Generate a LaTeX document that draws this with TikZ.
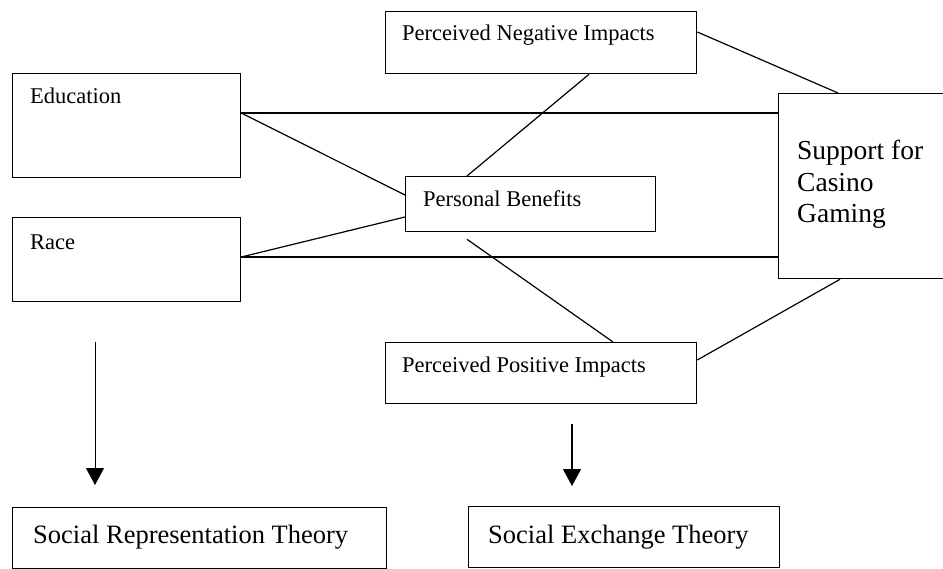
\documentclass[tikz,border=0pt]{standalone}
\usepackage{fontspec}
\setmainfont{Liberation Serif}
\usetikzlibrary{arrows.meta}
\begin{document}
\begin{tikzpicture}
[x=1pt,y=-1pt,
  boxdecorate/.style={shape=rectangle,draw,line width=1.3pt,inner sep=0pt,anchor=north west},%
  textdecorate/.style={inner sep=0pt,anchor=mid west,font=\fontsize{22.5}{27}\selectfont},%
  bigtextdecorate/.style={inner sep=0pt,anchor=mid west,font=\fontsize{26.5}{31}\selectfont},%
  linedecorate/.style={line width=1.2pt},%
  arrowdecorate/.style={-{Triangle[width=18pt,length=17pt]},line width=1.2pt}]
\useasboundingbox (0,0) rectangle (943,569);
% boxes
\node (pni) at (385,11) [boxdecorate,minimum width=311pt,minimum height=62pt] {};
\node (pnitext) [textdecorate] at ([shift={(17pt,-27pt)}]pni.north west) {Perceived Negative Impacts};
\node (edu) at (12,73) [boxdecorate,minimum width=228pt,minimum height=104pt] {};
\node (edutext) [textdecorate] at ([shift={(18pt,-28pt)}]edu.north west) {Education};
\node (race) at (12,217) [boxdecorate,minimum width=228pt,minimum height=84pt] {};
\node (racetext) [textdecorate] at ([shift={(18pt,-30pt)}]race.north west) {Race};
\node (pb) at (405,176) [boxdecorate,minimum width=250pt,minimum height=55pt] {};
\node (pbtext) [textdecorate] at ([shift={(18pt,-28pt)}]pb.north west) {Personal Benefits};
\node (sup) at (778,93) [boxdecorate,minimum width=175pt,minimum height=185pt] {};
\node (suptext) [inner sep=0pt,anchor=north west,align=left,font=\fontsize{27.5}{31.5}\selectfont]
  at ([shift={(19pt,-47pt)}]sup.north west) {Support for\\Casino\\Gaming};
\node (ppi) at (385,342) [boxdecorate,minimum width=311pt,minimum height=61pt] {};
\node (ppitext) [textdecorate] at ([shift={(17pt,-28pt)}]ppi.north west) {Perceived Positive Impacts};
\node (srt) at (12,507) [boxdecorate,minimum width=374pt,minimum height=61pt] {};
\node (srttext) [bigtextdecorate] at ([shift={(21pt,-34pt)}]srt.north west) {Social Representation Theory};
\node (set) at (468,506) [boxdecorate,minimum width=311pt,minimum height=61pt] {};
\node (settext) [bigtextdecorate] at ([shift={(20pt,-35pt)}]set.north west) {Social Exchange Theory};
% connectors
\path
([yshift=-40pt]edu.north east) edge[linedecorate] ([yshift=-20pt]sup.north west)
([yshift=-40pt]race.north east) edge[linedecorate] ([yshift=-164pt]sup.north west)
([yshift=-40pt]edu.north east) edge[linedecorate] ([yshift=-19pt]pb.north west)
([yshift=-40pt]race.north east) edge[linedecorate] ([yshift=-41pt]pb.north west)
([xshift=204pt]pni.south west) edge[linedecorate] ([xshift=62pt]pb.north west)
([yshift=-21pt]pni.north east) edge[linedecorate] ([xshift=60pt]sup.north west)
([shift={(62pt,-7pt)}]pb.south west) edge[linedecorate] ([xshift=228pt]ppi.north west)
([yshift=-18pt]ppi.north east) edge[linedecorate] ([xshift=62pt]sup.south west);
% arrows
\draw[arrowdecorate,line width=0.9pt] ([shift={(83pt,-40pt)}]race.south west) -- ([shift={(83pt,22pt)}]srt.north west);
\draw[arrowdecorate] ([shift={(187pt,-20pt)}]ppi.south west) -- ([shift={(104pt,20pt)}]set.north west);
\end{tikzpicture}
\end{document}
